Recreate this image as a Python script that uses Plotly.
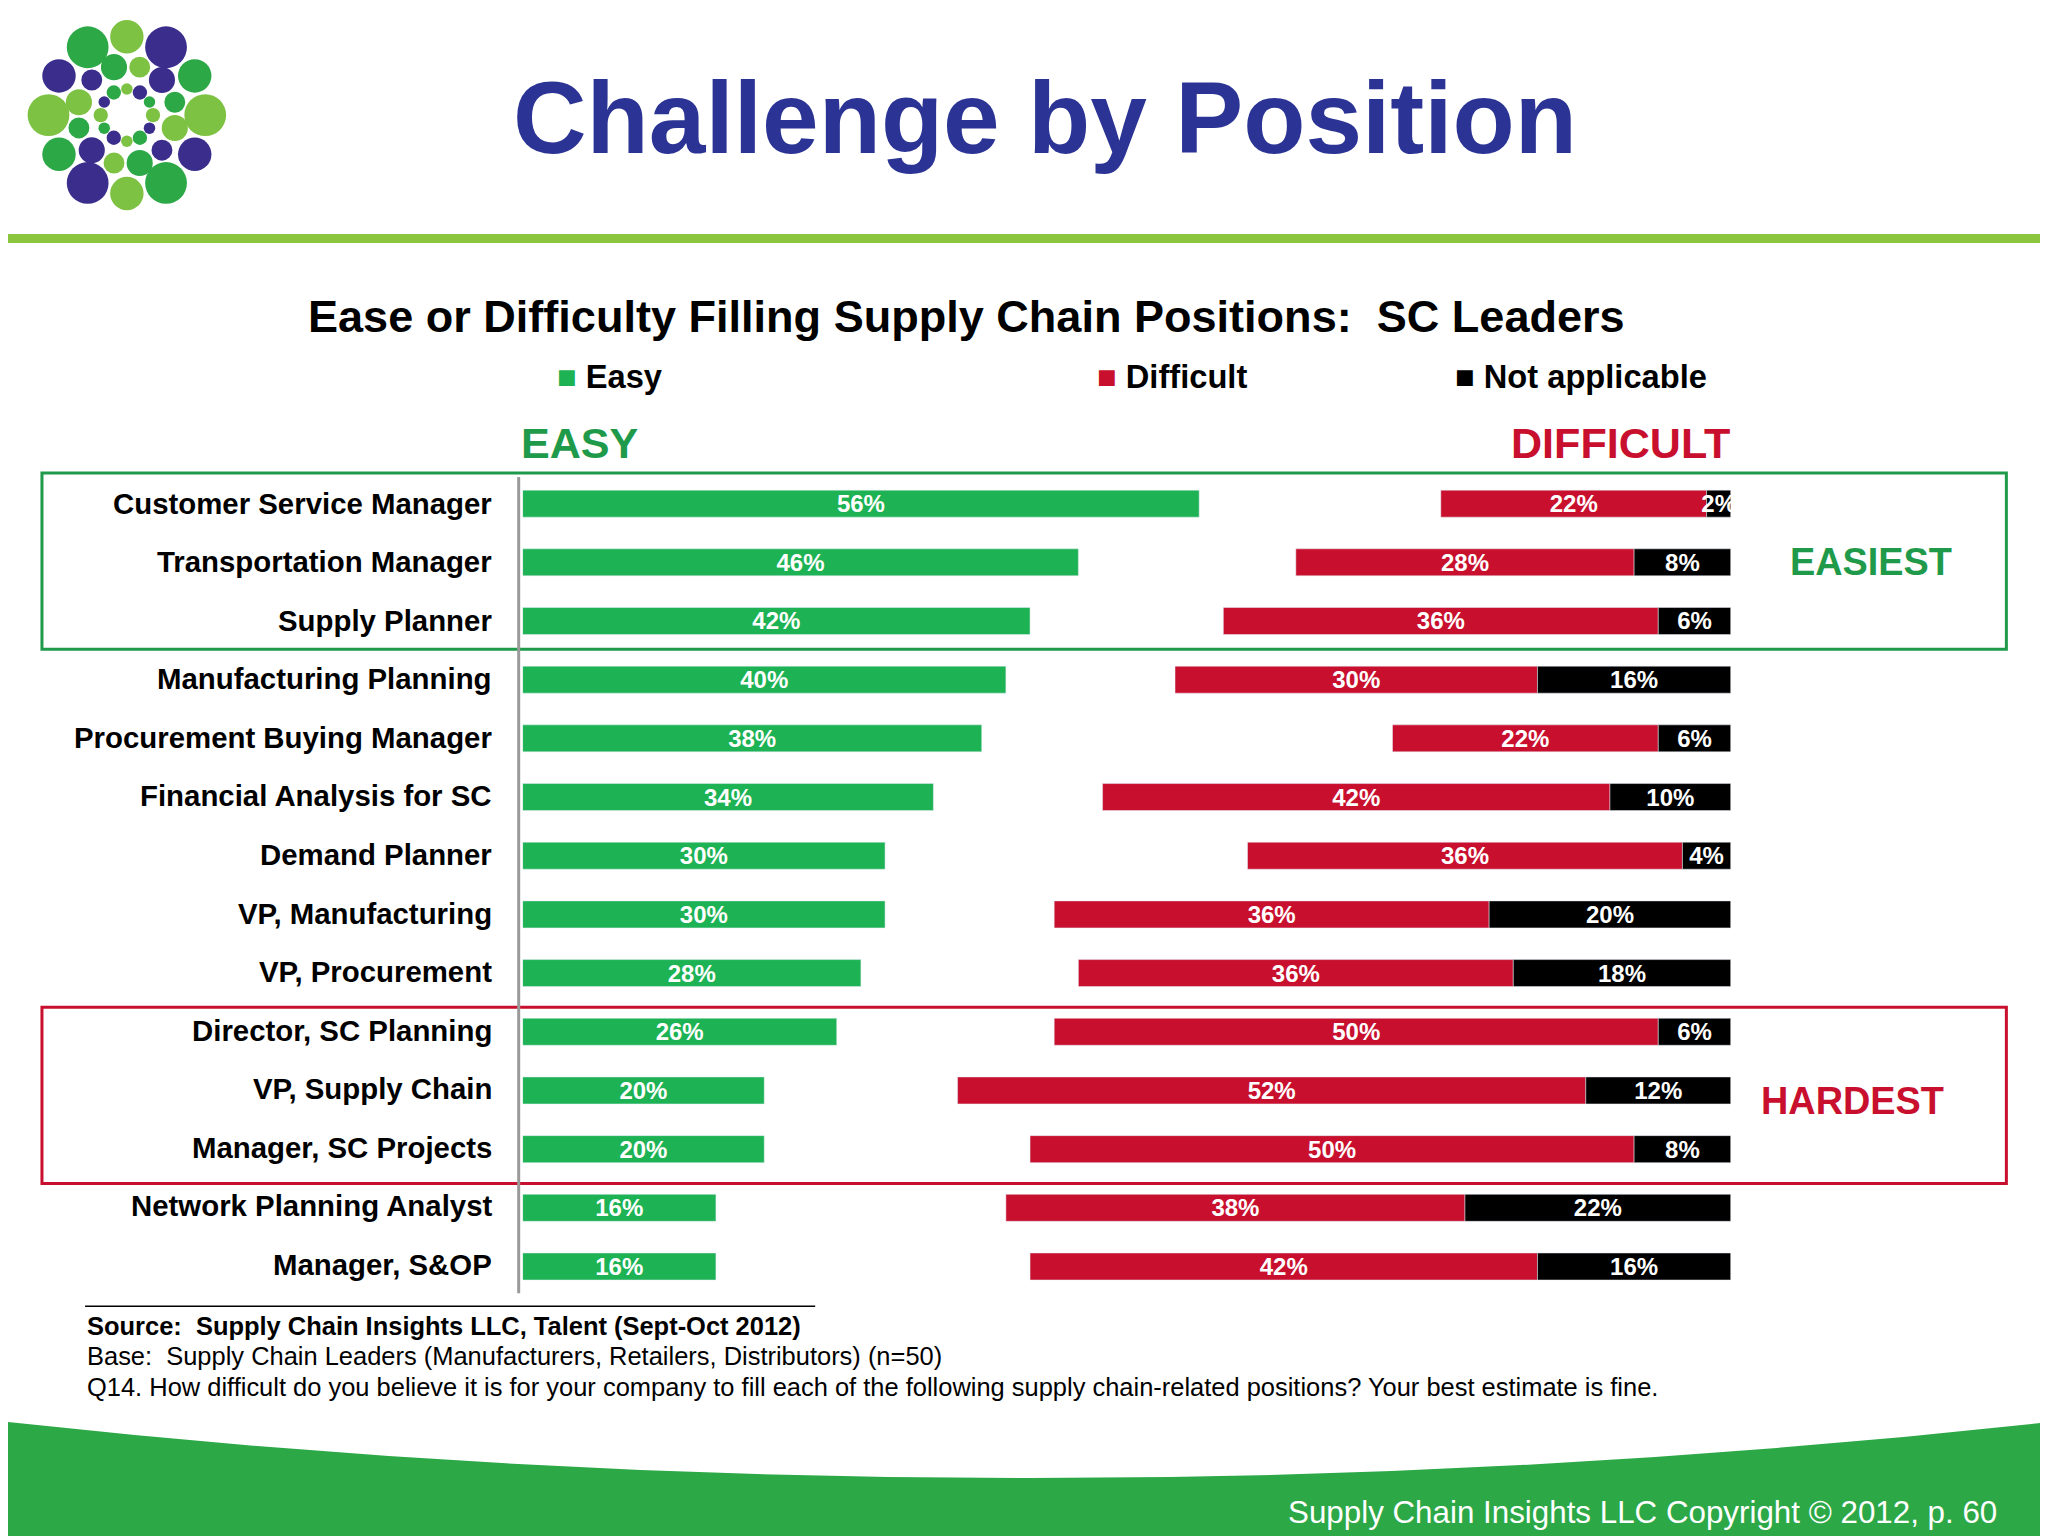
import math
import plotly.graph_objects as go

positions = ["Customer Service Manager", "Transportation Manager", "Supply Planner",
             "Manufacturing Planning", "Procurement Buying Manager", "Financial Analysis for SC",
             "Demand Planner", "VP, Manufacturing", "VP, Procurement", "Director, SC Planning",
             "VP, Supply Chain", "Manager, SC Projects", "Network Planning Analyst", "Manager, S&OP"]
easy = [56, 46, 42, 40, 38, 34, 30, 30, 28, 26, 20, 20, 16, 16]
difficult = [22, 28, 36, 30, 22, 42, 36, 36, 36, 50, 52, 50, 38, 42]
not_applicable = [2, 8, 6, 16, 6, 10, 4, 20, 18, 6, 12, 8, 22, 16]

W, H = 1568, 1176  # reference pixel space
FW, FH = 2048, 1536
S = FW / W
OFF = 6  # page margin compensation (reference px)

def px(x):
    return (x - OFF) / W

def py(y):
    return 1 - (y - OFF) / H

GREEN = "#1db254"
RED = "#c8102e"
BLUE = "#2b3494"
FONT = "Arial, Liberation Sans, sans-serif"

fig = go.Figure()
bar_font = dict(color="white", size=24, family=FONT, weight="bold")
common = dict(orientation="h", width=0.46, textposition="inside", textangle=0,
              insidetextanchor="middle", textfont=bar_font, cliponaxis=False)
fig.add_trace(go.Bar(y=positions, x=easy, base=[0] * len(easy), marker_color=GREEN,
                     name="Easy", text=[f"{v}%" for v in easy], **common))
fig.add_trace(go.Bar(y=positions, x=difficult,
                     base=[100 - d - n for d, n in zip(difficult, not_applicable)],
                     marker_color=RED, name="Difficult",
                     text=[f"{v}%" for v in difficult], **common))
fig.add_trace(go.Bar(y=positions, x=not_applicable,
                     base=[100 - n for n in not_applicable], marker_color="black",
                     name="Not applicable", text=[f"{v}%" for v in not_applicable], **common))

shapes = []
ann = []

# logo
cx, cy = 97, 88
rings = [(60, 16, 12, "big"), (38, 10, 12, "mid"), (20, 5.5, 12, "small")]
for r, size, n, kind in rings:
    for i in range(n):
        a = 2 * math.pi * i / n + (math.pi / n if kind == "mid" else 0)
        x, y = cx + r * math.cos(a), cy + r * math.sin(a)
        sz = size * (1.0 if i % 2 == 0 else 0.8)
        col = "#7dc242" if i % 3 == 0 else ("#3a2d8c" if i % 3 == 1 else "#2ca847")
        shapes.append(dict(type="circle", xref="paper", yref="paper",
                           x0=px(x - sz), x1=px(x + sz), y0=py(y + sz), y1=py(y - sz),
                           fillcolor=col, line_width=0))

# title line and bottom band
shapes.append(dict(type="rect", xref="paper", yref="paper", x0=px(0), x1=1,
                   y0=py(186), y1=py(179), fillcolor="#8cc63f", line_width=0))
shapes.append(dict(type="path", xref="paper", yref="paper",
                   path=f"M {px(0)},{py(1088)} Q 0.5,{py(1175)} 1,{py(1088)} L 1,0 L {px(0)},0 Z",
                   fillcolor="#2ca847", line_width=0))
# highlight boxes
shapes.append(dict(type="rect", xref="paper", yref="paper", x0=px(32), x1=px(1536),
                   y0=py(497), y1=py(362), line=dict(color="#1f9a4a", width=3)))
shapes.append(dict(type="rect", xref="paper", yref="paper", x0=px(32), x1=px(1536),
                   y0=py(906), y1=py(771), line=dict(color=RED, width=3)))
# axis line & source underline
shapes.append(dict(type="line", xref="paper", yref="paper", x0=px(397), x1=px(397),
                   y0=py(990), y1=py(365), line=dict(color="#9a9a9a", width=3)))
shapes.append(dict(type="line", xref="paper", yref="paper", x0=px(65), x1=px(624),
                   y0=py(1000), y1=py(1000), line=dict(color="black", width=1.5)))

def text(x, y, t, size, color="black", bold=False, xanchor="left"):
    ann.append(dict(xref="paper", yref="paper", x=px(x), y=py(y), text=f"<b>{t}</b>" if bold else t,
                    showarrow=False, xanchor=xanchor, yanchor="middle",
                    font=dict(size=size * S, color=color, family=FONT)))

text(800, 90, "Challenge by Position", 78, BLUE, True, "center")
text(740, 242, "Ease or Difficulty Filling Supply Chain Positions:  SC Leaders", 34.5, bold=True, xanchor="center")
text(425, 288, "<span style='color:#1db254'>■</span> Easy", 25, bold=True)
text(838, 288, "<span style='color:#c8102e'>■</span> Difficult", 25, bold=True)
text(1112, 288, "■ Not applicable", 25, bold=True)
text(397, 339, "EASY", 33, "#1f9a4a", True)
text(1326, 339, "DIFFICULT", 33, RED, True, "right")
text(1432, 430, "EASIEST", 29, "#1f9a4a", True, "center")
text(1418, 843, "HARDEST", 29, RED, True, "center")
for i, p in enumerate(positions):
    text(378, 385 + i * 44.85, p, 22.5, bold=True, xanchor="right")
text(65, 1015, "<b>Source:  Supply Chain Insights LLC, Talent (Sept-Oct 2012)</b>", 19.5)
text(65, 1038, "Base:  Supply Chain Leaders (Manufacturers, Retailers, Distributors) (n=50)", 19.5)
text(65, 1062, "Q14. How difficult do you believe it is for your company to fill each of the following supply chain-related positions? Your best estimate is fine.", 19.5)
text(1530, 1158, "Supply Chain Insights LLC Copyright © 2012, p. 60", 24, "white", False, "right")

fig.update_layout(
    width=FW, height=FH, margin=dict(l=0, r=0, t=0, b=0),
    paper_bgcolor="white", plot_bgcolor="white", showlegend=False,
    barmode="overlay", shapes=shapes, annotations=ann,
    uniformtext=dict(minsize=22, mode="show"),
    xaxis=dict(domain=[px(400), px(1325)], range=[0, 100], visible=False),
    yaxis=dict(domain=[py(992), py(363)], autorange="reversed", visible=False,
               categoryorder="array", categoryarray=positions),
)
fig.write_html("out.html")
